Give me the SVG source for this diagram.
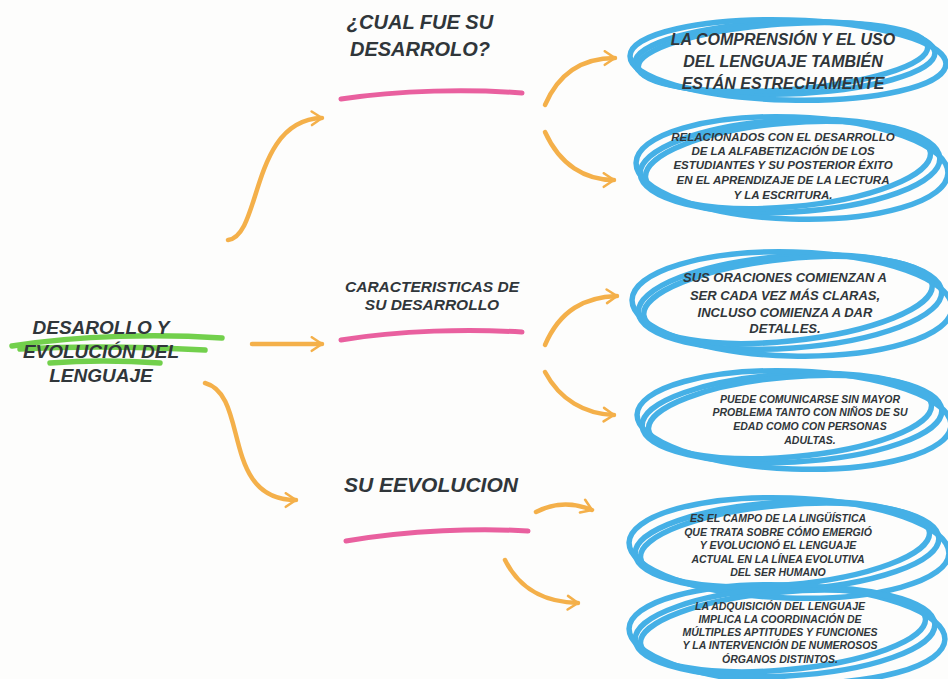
<svg xmlns="http://www.w3.org/2000/svg" width="948" height="679" viewBox="0 0 948 679">
<defs>
<style>
.t{font-family:"Liberation Sans",Arial,sans-serif;font-weight:bold;font-style:italic;fill:#30363a;text-anchor:middle}
.arr{fill:none;stroke:#f4b04a;stroke-width:4.5;stroke-linecap:round}
.pink{fill:none;stroke:#e9609f;stroke-width:5;stroke-linecap:round}
.grn{fill:none;stroke:#72d04c;stroke-width:5.5;stroke-linecap:round}
.blu{fill:none;stroke:#45b0e6;stroke-width:5.5}
</style>
<marker id="ah" viewBox="0 0 20 20" refX="15" refY="10" markerWidth="17" markerHeight="17" orient="auto" markerUnits="userSpaceOnUse">
<path d="M3,2 L15,10 L3,18" fill="none" stroke="#f4b04a" stroke-width="3" stroke-linecap="round" stroke-linejoin="round"/>
</marker>
</defs>
<rect width="948" height="679" fill="#fdfdfc"/>

<g id="connectors">
<path class="arr" marker-end="url(#ah)" d="M228,240 C262,236 250,120 322,118"/>
<path class="arr" marker-end="url(#ah)" d="M252,344 L322,344"/>
<path class="arr" marker-end="url(#ah)" d="M205,383 C250,395 220,500 296,500"/>
<path class="arr" marker-end="url(#ah)" d="M545,105 C560,70 585,58 615,58"/>
<path class="arr" marker-end="url(#ah)" d="M545,132 C560,165 585,180 614,180"/>
<path class="arr" marker-end="url(#ah)" d="M545,345 C560,310 585,297 617,296"/>
<path class="arr" marker-end="url(#ah)" d="M545,372 C560,400 585,414 614,415"/>
<path class="arr" marker-end="url(#ah)" d="M536,512 C555,502 575,503 592,510"/>
<path class="arr" marker-end="url(#ah)" d="M505,560 C520,590 545,602 578,603"/>
</g>

<g id="central">
<path class="grn" d="M12,346 C80,335 160,334 222,338"/>
<path class="grn" d="M20,349 C90,345 150,347 205,350"/>
<path class="grn" d="M50,363 C90,360 130,361 160,363"/>
<text class="t" font-size="19" x="101" y="334">DESAROLLO Y</text>
<text class="t" font-size="19" x="101" y="358">EVOLUCIÓN DEL</text>
<text class="t" font-size="19" x="101" y="382">LENGUAJE</text>
</g>

<g id="h1">
<text class="t" font-size="20" x="420" y="29">¿CUAL FUE SU</text>
<text class="t" font-size="20" x="420" y="56">DESARROLO?</text>
<path class="pink" d="M341,99 C400,90 470,89 522,93"/>
</g>

<g id="h2">
<text class="t" font-size="15.5" x="432" y="292">CARACTERISTICAS DE</text>
<text class="t" font-size="15.5" x="432" y="310">SU DESARROLLO</text>
<path class="pink" d="M341,340 C400,330 470,329 522,332"/>
</g>

<g id="h3">
<text class="t" font-size="21" x="431" y="492">SU EEVOLUCION</text>
<path class="pink" d="M346,541 C410,530 480,528 528,531"/>
</g>

<g id="n1">
<ellipse class="blu" cx="785" cy="58" rx="150" ry="36" transform="rotate(-2 785 58)"/>
<ellipse class="blu" cx="788" cy="60" rx="158" ry="40" transform="rotate(1.5 788 60)"/>
<ellipse class="blu" cx="783" cy="57" rx="145" ry="33" transform="rotate(-4 783 57)"/>
<text class="t" font-size="16" x="783" y="45">LA COMPRENSIÓN Y EL USO</text>
<text class="t" font-size="16" x="783" y="67">DEL LENGUAJE TAMBIÉN</text>
<text class="t" font-size="16" x="783" y="89">ESTÁN ESTRECHAMENTE</text>
</g>

<g id="n2">
<ellipse class="blu" cx="790" cy="166" rx="150" ry="46" transform="rotate(-3 790 166)"/>
<ellipse class="blu" cx="792" cy="168" rx="156" ry="51" transform="rotate(2 792 168)"/>
<ellipse class="blu" cx="788" cy="165" rx="143" ry="42" transform="rotate(-5 788 165)"/>
<text class="t" font-size="11.5" x="783" y="141">RELACIONADOS CON EL DESARROLLO</text>
<text class="t" font-size="11.5" x="783" y="155">DE LA ALFABETIZACIÓN DE LOS</text>
<text class="t" font-size="11.5" x="783" y="169">ESTUDIANTES Y SU POSTERIOR ÉXITO</text>
<text class="t" font-size="11.5" x="783" y="184">EN EL APRENDIZAJE DE LA LECTURA</text>
<text class="t" font-size="11.5" x="783" y="199">Y LA ESCRITURA.</text>
</g>

<g id="n3">
<ellipse class="blu" cx="790" cy="302" rx="152" ry="46" transform="rotate(-4 790 302)"/>
<ellipse class="blu" cx="792" cy="304" rx="160" ry="52" transform="rotate(1.5 792 304)"/>
<ellipse class="blu" cx="788" cy="300" rx="145" ry="41" transform="rotate(-6 788 300)"/>
<text class="t" font-size="13" x="785" y="282">SUS ORACIONES COMIENZAN A</text>
<text class="t" font-size="13" x="785" y="300">SER CADA VEZ MÁS CLARAS,</text>
<text class="t" font-size="13" x="785" y="317">INCLUSO COMIENZA A DAR</text>
<text class="t" font-size="13" x="785" y="333">DETALLES.</text>
</g>

<g id="n4">
<ellipse class="blu" cx="792" cy="418" rx="150" ry="44" transform="rotate(-3 792 418)"/>
<ellipse class="blu" cx="794" cy="420" rx="157" ry="49" transform="rotate(2 794 420)"/>
<ellipse class="blu" cx="790" cy="417" rx="142" ry="40" transform="rotate(-5 790 417)"/>
<text class="t" font-size="10.5" x="810" y="403">PUEDE COMUNICARSE SIN MAYOR</text>
<text class="t" font-size="10.5" x="810" y="416">PROBLEMA TANTO CON NIÑOS DE SU</text>
<text class="t" font-size="10.5" x="810" y="430">EDAD COMO CON PERSONAS</text>
<text class="t" font-size="10.5" x="810" y="444">ADULTAS.</text>
</g>

<g id="n5">
<ellipse class="blu" cx="787" cy="546" rx="152" ry="44" transform="rotate(-3 787 546)"/>
<ellipse class="blu" cx="789" cy="548" rx="160" ry="50" transform="rotate(2 789 548)"/>
<ellipse class="blu" cx="785" cy="545" rx="145" ry="40" transform="rotate(-5 785 545)"/>
<text class="t" font-size="10.5" x="778" y="522">ES EL CAMPO DE LA LINGÜÍSTICA</text>
<text class="t" font-size="10.5" x="778" y="536">QUE TRATA SOBRE CÓMO EMERGIÓ</text>
<text class="t" font-size="10.5" x="778" y="549">Y EVOLUCIONÓ EL LENGUAJE</text>
<text class="t" font-size="10.5" x="778" y="563">ACTUAL EN LA LÍNEA EVOLUTIVA</text>
<text class="t" font-size="10.5" x="778" y="576">DEL SER HUMANO</text>
</g>

<g id="n6">
<ellipse class="blu" cx="785" cy="632" rx="150" ry="44" transform="rotate(-3 785 632)"/>
<ellipse class="blu" cx="787" cy="634" rx="158" ry="49" transform="rotate(2 787 634)"/>
<ellipse class="blu" cx="783" cy="631" rx="143" ry="39" transform="rotate(-5 783 631)"/>
<text class="t" font-size="10.5" x="780" y="610">LA ADQUISICIÓN DEL LENGUAJE</text>
<text class="t" font-size="10.5" x="780" y="623">IMPLICA LA COORDINACIÓN DE</text>
<text class="t" font-size="10.5" x="780" y="636">MÚLTIPLES APTITUDES Y FUNCIONES</text>
<text class="t" font-size="10.5" x="780" y="649">Y LA INTERVENCIÓN DE NUMEROSOS</text>
<text class="t" font-size="10.5" x="780" y="663">ÓRGANOS DISTINTOS.</text>
</g>
</svg>
